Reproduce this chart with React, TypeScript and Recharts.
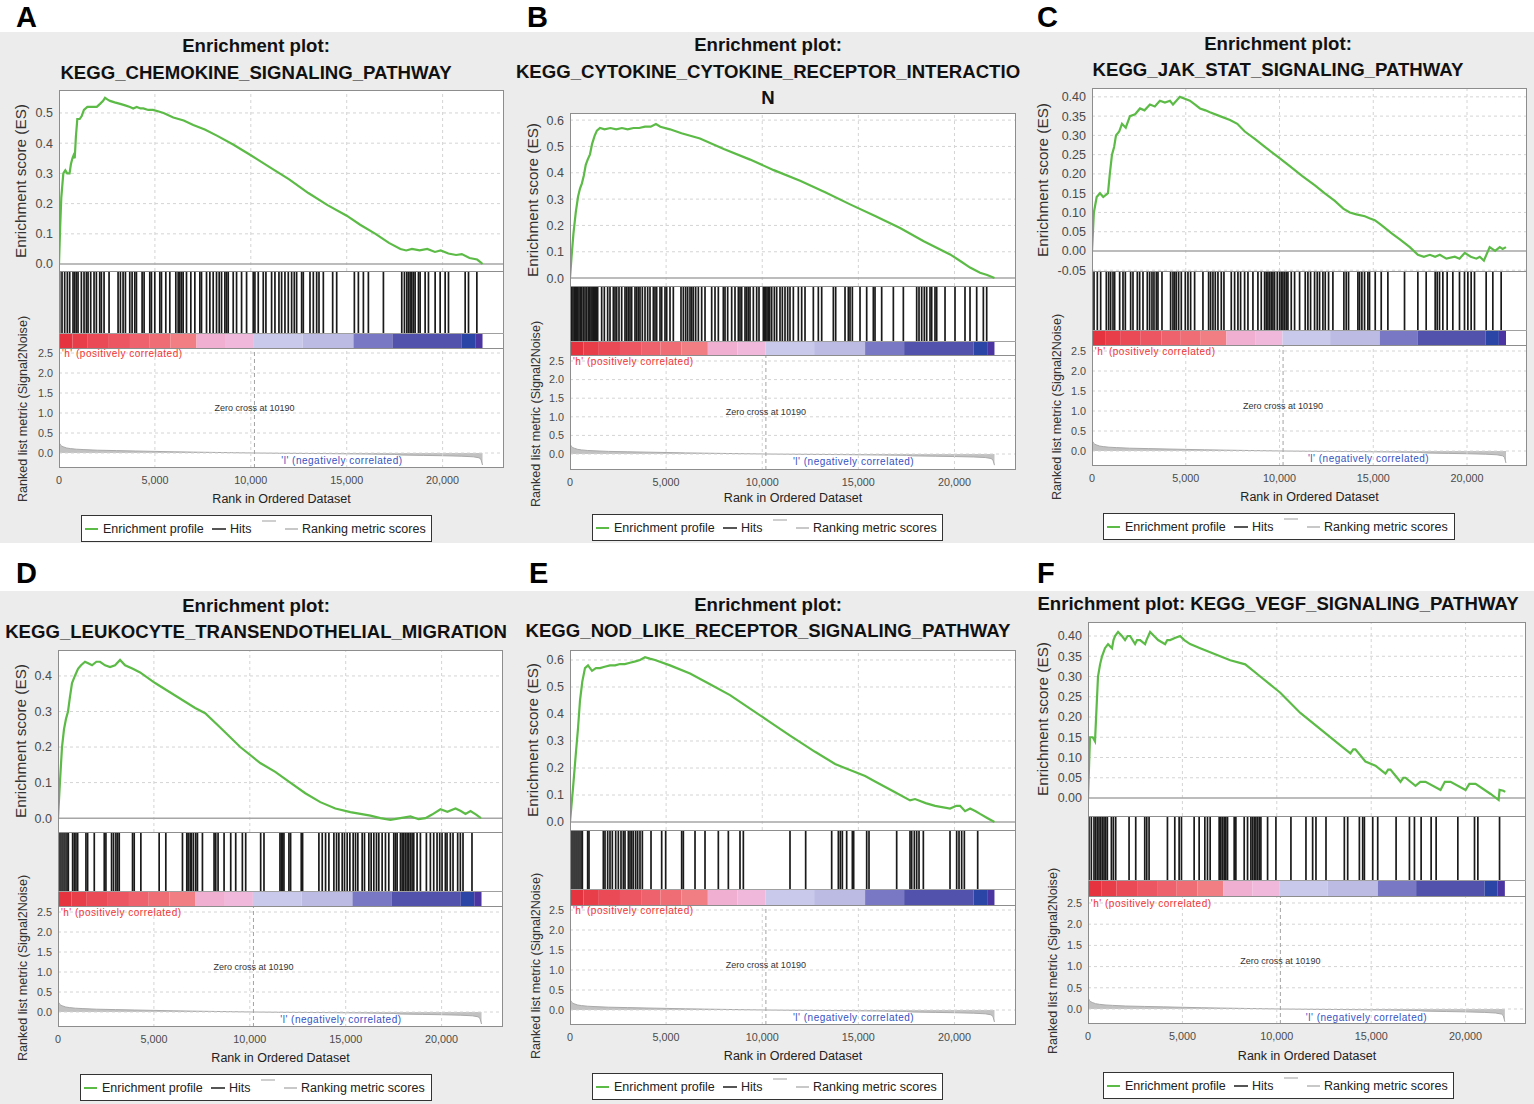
import React from 'react';
import { ComposedChart, Line, Area, Bar, Scatter, XAxis, YAxis, ReferenceLine, ReferenceDot } from 'recharts';

const FONT = '"Liberation Sans", Arial, Helvetica, sans-serif';
const XMAX = 23200;
const ZERO_CROSS = 10190;
const rankTicks = [0, 5000, 10000, 15000, 20000];
const metricTicks = [0, 0.5, 1, 1.5, 2, 2.5];

type Pt = [number, number];

// Ranked list metric (Signal2Noise), shared by all panels
const metricCurve: Pt[] = [
  [0, 0.28], [30, 0.24], [80, 0.2], [150, 0.17], [250, 0.15], [400, 0.125], [600, 0.11], [900, 0.095],
  [1300, 0.085], [2000, 0.07], [3000, 0.06], [4000, 0.05], [5000, 0.04], [6000, 0.03], [7000, 0.022],
  [8000, 0.015], [9000, 0.008], [10190, 0], [11500, -0.006], [13000, -0.012], [14500, -0.018],
  [16000, -0.026], [17500, -0.035], [17800, -0.05], [19000, -0.06], [20000, -0.068], [21000, -0.08],
  [21600, -0.095], [21900, -0.12], [22000, -0.16], [22080, -0.3],
];

// Heat-map bar of the ranked list: [start rank, end rank, colour]
const colorBands: [number, number, string][] = [
  [0, 700, '#e5343f'], [700, 1500, '#e83e4a'], [1500, 2600, '#ea4a56'], [2600, 3700, '#ec5662'],
  [3700, 4700, '#ed626c'], [4700, 5800, '#ef6e76'], [5800, 7170, '#f17e82'], [7170, 8700, '#f0aed0'],
  [8700, 10160, '#f0b8da'], [10160, 12700, '#c9c9ec'], [12700, 15350, '#bbbbe3'], [15350, 17380, '#7878c4'],
  [17380, 21000, '#5252ac'], [21000, 21700, '#2a45a5'], [21700, 22080, '#4b35a2'],
];

// Enrichment score curves: [rank, ES]
const esA: Pt[] = [
  [0, 0], [60, 0.12], [120, 0.22], [225, 0.3], [330, 0.31], [430, 0.3], [550, 0.3], [620, 0.33], [700, 0.35],
  [760, 0.36], [820, 0.35], [880, 0.42], [955, 0.48], [1080, 0.48], [1185, 0.49], [1300, 0.51], [1480, 0.52],
  [1700, 0.52], [1970, 0.52], [2140, 0.53], [2300, 0.54], [2400, 0.55], [2520, 0.545], [2660, 0.54],
  [2900, 0.535], [3190, 0.53], [3450, 0.525], [3700, 0.52], [3870, 0.515], [4050, 0.52], [4250, 0.515],
  [4400, 0.515], [4650, 0.51], [4900, 0.51], [5200, 0.505], [5450, 0.5], [5960, 0.485], [6500, 0.475],
  [7000, 0.46], [7600, 0.445], [8230, 0.425], [9100, 0.395], [10000, 0.36], [11000, 0.32], [12000, 0.28],
  [13000, 0.235], [14000, 0.195], [15000, 0.16], [15700, 0.13], [16500, 0.1], [17200, 0.07], [17800, 0.05],
  [18100, 0.045], [18400, 0.05], [18800, 0.045], [19200, 0.05], [19600, 0.04], [19900, 0.045], [20300, 0.035],
  [20700, 0.03], [21000, 0.033], [21400, 0.02], [21800, 0.015], [22000, 0.005], [22080, 0],
];
const esB: Pt[] = [
  [0, 0], [80, 0.08], [180, 0.17], [300, 0.25], [420, 0.31], [520, 0.34], [620, 0.36], [720, 0.39], [820, 0.43],
  [920, 0.45], [1040, 0.47], [1150, 0.51], [1280, 0.54], [1400, 0.56], [1560, 0.57], [1800, 0.565], [2100, 0.57],
  [2400, 0.565], [2700, 0.57], [3000, 0.565], [3300, 0.57], [3600, 0.57], [3900, 0.575], [4200, 0.575],
  [4470, 0.585], [4700, 0.575], [5200, 0.565], [5800, 0.55], [6760, 0.53], [8000, 0.49], [9370, 0.45],
  [10600, 0.41], [11970, 0.37], [13300, 0.325], [14570, 0.28], [15900, 0.235], [17170, 0.19], [18400, 0.14],
  [19770, 0.09], [20300, 0.065], [20810, 0.04], [21330, 0.02], [21700, 0.012], [22080, 0],
];
const esC: Pt[] = [
  [0, 0], [100, 0.1], [250, 0.14], [426, 0.15], [600, 0.14], [853, 0.15], [950, 0.2], [1066, 0.25], [1180, 0.27],
  [1280, 0.3], [1450, 0.31], [1600, 0.33], [1800, 0.32], [2025, 0.35], [2300, 0.355], [2560, 0.37], [2800, 0.365],
  [3090, 0.38], [3350, 0.375], [3620, 0.39], [3890, 0.385], [4160, 0.39], [4320, 0.38], [4500, 0.39], [4690, 0.4],
  [4950, 0.395], [5220, 0.39], [5500, 0.38], [5760, 0.37], [6050, 0.365], [6290, 0.36], [6820, 0.35], [7360, 0.34],
  [7750, 0.33], [8150, 0.31], [8700, 0.29], [9220, 0.27], [9900, 0.245], [10550, 0.22], [11200, 0.195],
  [11890, 0.17], [12400, 0.15], [12950, 0.13], [13400, 0.11], [13750, 0.1], [14100, 0.095], [14550, 0.09],
  [14800, 0.085], [15080, 0.08], [15350, 0.07], [15620, 0.06], [16000, 0.045], [16420, 0.03], [16950, 0.01],
  [17380, -0.01], [17700, -0.015], [18020, -0.01], [18300, -0.015], [18550, -0.01], [18900, -0.02],
  [19350, -0.015], [19600, -0.02], [19880, -0.005], [20200, -0.015], [20500, -0.02], [20680, -0.015],
  [20900, -0.025], [21210, 0.01], [21500, 0], [21750, 0.01], [21900, 0.005], [22080, 0.01],
];
const esD: Pt[] = [
  [0, 0], [100, 0.1], [209, 0.2], [313, 0.25], [420, 0.28], [522, 0.3], [620, 0.34], [731, 0.38], [880, 0.4],
  [1044, 0.42], [1200, 0.43], [1409, 0.44], [1600, 0.435], [1775, 0.43], [2000, 0.44], [2192, 0.44],
  [2453, 0.43], [2714, 0.425], [2975, 0.43], [3236, 0.445], [3497, 0.43], [3900, 0.42], [4280, 0.41],
  [5063, 0.38], [6107, 0.345], [7151, 0.31], [7673, 0.295], [8456, 0.255], [9500, 0.2], [10544, 0.155],
  [11327, 0.13], [12110, 0.1], [12893, 0.07], [13676, 0.045], [14459, 0.027], [15242, 0.017], [16286, 0.007],
  [16808, 0], [17330, -0.005], [17850, 0], [18374, 0.005], [18800, -0.003], [19157, 0], [19500, 0.01],
  [19940, 0.025], [20300, 0.018], [20723, 0.027], [21000, 0.02], [21245, 0.012], [21506, 0.02], [21800, 0.01],
  [22050, 0],
];
const esE: Pt[] = [
  [0, 0], [150, 0.12], [300, 0.25], [420, 0.35], [520, 0.45], [640, 0.52], [780, 0.57], [937, 0.58], [1145, 0.56],
  [1350, 0.57], [1561, 0.57], [1800, 0.575], [2081, 0.58], [2350, 0.58], [2602, 0.585], [2850, 0.585],
  [3122, 0.59], [3400, 0.595], [3642, 0.6], [3902, 0.61], [4150, 0.605], [4423, 0.6], [5203, 0.58],
  [6244, 0.55], [7284, 0.51], [8325, 0.47], [9365, 0.42], [10406, 0.37], [11447, 0.32], [12747, 0.26],
  [13788, 0.215], [14300, 0.2], [14829, 0.185], [15350, 0.17], [15869, 0.15], [16910, 0.11], [17690, 0.08],
  [17950, 0.085], [18500, 0.07], [18991, 0.06], [19771, 0.05], [20100, 0.06], [20292, 0.06], [20552, 0.04],
  [20812, 0.05], [21100, 0.04], [21332, 0.03], [21700, 0.015], [22080, 0],
];
const esF: Pt[] = [
  [0, 0], [106, 0.15], [250, 0.15], [371, 0.14], [450, 0.22], [530, 0.3], [640, 0.33], [743, 0.35], [900, 0.37],
  [1061, 0.38], [1273, 0.37], [1350, 0.39], [1432, 0.4], [1592, 0.41], [1800, 0.4], [1963, 0.39], [2100, 0.4],
  [2228, 0.4], [2493, 0.38], [2600, 0.39], [2759, 0.39], [3024, 0.38], [3100, 0.39], [3289, 0.41], [3500, 0.4],
  [3714, 0.39], [4085, 0.38], [4200, 0.39], [4350, 0.39], [4600, 0.395], [4881, 0.4], [5100, 0.39],
  [5411, 0.38], [5942, 0.37], [6472, 0.36], [7003, 0.35], [7533, 0.34], [8329, 0.33], [9125, 0.3],
  [10186, 0.26], [11247, 0.21], [12308, 0.17], [13369, 0.13], [13899, 0.11], [14050, 0.12], [14164, 0.12],
  [14695, 0.09], [15225, 0.08], [15756, 0.06], [15900, 0.07], [16021, 0.07], [16552, 0.04], [16700, 0.05],
  [16817, 0.05], [17347, 0.03], [17600, 0.04], [17878, 0.04], [18674, 0.02], [18900, 0.04], [19204, 0.04],
  [20000, 0.02], [20200, 0.035], [20530, 0.035], [21326, 0.01], [21750, -0.005], [21800, 0.02], [22000, 0.018],
  [22100, 0.015],
];

// Hit positions (rank of each gene-set member)
const hitsA = [
  35, 157, 296, 435, 557, 731, 818, 905, 992, 1166, 1305, 1427, 1514, 1653, 1827, 1949, 2123, 2210, 2349, 2610,
  3080, 3202, 3341, 3463, 3689, 3811, 3950, 4037, 4333, 4437, 4733, 4820, 4994, 5255, 5342, 5568, 5777, 6090,
  6212, 6299, 6386, 6473, 6647, 6873, 7082, 7343, 7430, 7691, 7865, 8039, 8213, 8352, 8474, 8648, 8735, 8822,
  9083, 9257, 9518, 9779, 10127, 10214, 10388, 10649, 10788, 11084, 11258, 11467, 11606, 11780, 11954, 12128,
  12267, 12389, 12650, 12737, 13085, 13259, 13433, 13555, 13781, 14268, 14477, 15399, 15608, 15869, 16130,
  16913, 17870, 18009, 18131, 18218, 18305, 18392, 18479, 18566, 18740, 18827, 19088, 19262, 19610, 19871,
  20132, 20306, 21176, 21350, 21785,
];
const hitsB = [
  87, 156, 225, 290, 347, 400, 468, 540, 607, 690, 780, 867, 954, 1020, 1092, 1150, 1214, 1270, 1335, 1380,
  1439, 1647, 1786, 1959, 2081, 2254, 2341, 2428, 2549, 2688, 2861, 2948, 3035, 3121, 3208, 3381, 3468, 3555,
  3641, 3763, 3902, 4040, 4162, 4335, 4422, 4508, 4682, 4769, 4942, 5029, 5202, 5375, 5774, 5896, 6017, 6121,
  6242, 6329, 6416, 6537, 6676, 6849, 7023, 7370, 7543, 7716, 7976, 8063, 8202, 8410, 8583, 8757, 8843, 8930,
  9104, 9190, 9277, 9364, 9537, 9710, 9832, 10057, 10109, 10179, 10248, 10317, 10387, 10491, 10630, 10751,
  10924, 11046, 11184, 11323, 11444, 11618, 11878, 12051, 12225, 12658, 12918, 13092, 13699, 13820, 14306,
  14479, 14566, 14687, 15086, 15433, 15779, 15866, 16213, 16820, 17340, 18034, 18155, 18294, 18432, 18554,
  18727, 18814, 18987, 19074, 19508, 20027, 20547, 20808, 21155, 21502, 21675,
];
const hitsC = [
  107, 284, 462, 764, 889, 995, 1120, 1208, 1475, 1653, 1777, 2061, 2186, 2417, 2541, 2719, 2950, 3074, 3199,
  3305, 3430, 3518, 3732, 4194, 4318, 4407, 4496, 4620, 4762, 4976, 5118, 5260, 5473, 5917, 6220, 6326, 6450,
  6575, 6717, 6895, 7037, 7428, 7606, 7783, 7925, 8139, 8317, 8583, 8849, 9027, 9205, 9294, 9383, 9471, 9560,
  9649, 9738, 9880, 10005, 10094, 10182, 10271, 10360, 10449, 10627, 10805, 11071, 11373, 11515, 11657, 11871,
  12013, 12137, 12315, 12439, 12617, 12848, 13434, 13559, 13683, 14181, 14270, 14394, 14536, 14714, 14802,
  15105, 15425, 15780, 16668, 17379, 17823, 18303, 18410, 18534, 18712, 18943, 19245, 19600, 19867, 20045,
  20222, 20400, 21022, 21377, 21822,
];
const hitsD = [
  52, 156, 260, 364, 468, 538, 763, 850, 937, 1024, 1457, 1544, 1891, 2412, 2498, 2793, 2897, 3019, 3106, 3192,
  3886, 3973, 4320, 5274, 5621, 6489, 6714, 6784, 6888, 6957, 7061, 7183, 7270, 7530, 8137, 8224, 8345, 8658,
  9005, 9265, 9612, 9785, 10566, 10739, 11572, 11641, 11710, 11780, 12040, 12127, 12682, 12752, 13602, 13776,
  13949, 14123, 14383, 14522, 14643, 14817, 14938, 15077, 15216, 15389, 15511, 15632, 15858, 15979, 16205,
  16326, 16465, 16604, 16725, 16899, 17072, 17246, 17506, 17593, 17680, 17853, 17940, 18027, 18113, 18200,
  18287, 18374, 18460, 18547, 18721, 18894, 19206, 19414, 19588, 19762, 19900, 20022, 20195, 20282, 20456,
  20594, 20837, 20976, 21115, 21583,
];
const hitsE = [
  52, 156, 260, 364, 468, 572, 642, 919, 988, 1734, 1821, 1959, 2081, 2202, 2376, 2514, 2653, 2774, 2861, 3035,
  3121, 3208, 3295, 3416, 3520, 3641, 3763, 4214, 4769, 4977, 5809, 5896, 6503, 7023, 7716, 8237, 8843, 9017,
  11444, 12259, 13612, 13959, 14063, 14167, 14392, 14687, 14756, 15433, 15554, 16993, 17687, 17774, 17912,
  18034, 18155, 18380, 19768, 20114, 20236, 20374, 20513, 21207,
];
const hitsF = [
  53, 177, 318, 407, 495, 583, 672, 760, 849, 937, 1025, 1238, 1344, 1467, 2175, 2528, 3006, 3112, 3235, 4208,
  4597, 4827, 4950, 5622, 5887, 6188, 6329, 6471, 6948, 7037, 7125, 7213, 7302, 7390, 7744, 7832, 8274, 8451,
  8628, 8716, 8805, 8893, 8981, 9070, 9158, 9512, 9954, 10749, 11545, 11899, 12075, 12606, 13578, 13755, 14374,
  14550, 14639, 15081, 15346, 16319, 17026, 17291, 17645, 18175, 18440, 19589, 20473, 20650, 21799,
];

const ticksA = [0, 0.1, 0.2, 0.3, 0.4, 0.5];
const ticksB = [0, 0.1, 0.2, 0.3, 0.4, 0.5, 0.6];
const ticksC = [-0.05, 0, 0.05, 0.1, 0.15, 0.2, 0.25, 0.3, 0.35, 0.4];
const ticksD = [0, 0.1, 0.2, 0.3, 0.4];
const ticksE = [0, 0.1, 0.2, 0.3, 0.4, 0.5, 0.6];
const ticksF = [0, 0.05, 0.1, 0.15, 0.2, 0.25, 0.3, 0.35, 0.4];

const titlesA = ['Enrichment plot:', 'KEGG_CHEMOKINE_SIGNALING_PATHWAY'];
const titlesB = ['Enrichment plot:', 'KEGG_CYTOKINE_CYTOKINE_RECEPTOR_INTERACTIO', 'N'];
const titlesC = ['Enrichment plot:', 'KEGG_JAK_STAT_SIGNALING_PATHWAY'];
const titlesD = ['Enrichment plot:', 'KEGG_LEUKOCYTE_TRANSENDOTHELIAL_MIGRATION'];
const titlesE = ['Enrichment plot:', 'KEGG_NOD_LIKE_RECEPTOR_SIGNALING_PATHWAY'];
const titlesF = ['Enrichment plot: KEGG_VEGF_SIGNALING_PATHWAY'];

type Cfg = {
  letter: string; letterX: number; letterY: number;
  bg: [number, number, number, number];
  titles: string[]; titleCx: number; titleYs: number[];
  L: number; R: number;
  esTop: number; esBottom: number; esDomain: [number, number]; esTicks: number[]; esDec: number;
  hitsBottom: number; barBottom: number; rankBottom: number; rankDomain: [number, number];
  xLabelY: number; esLabelX: number; rankLabelX: number;
  legend: [number, number, number, number];
  es: Pt[]; hits: number[];
};

const panels: Cfg[] = [
  { letter: 'A', letterX: 16, letterY: 1, bg: [0, 32, 512, 511], titles: titlesA, titleCx: 256, titleYs: [45, 72],
    L: 59, R: 504, esTop: 90, esBottom: 271, esDomain: [-0.023, 0.576], esTicks: ticksA, esDec: 1,
    hitsBottom: 333, barBottom: 348, rankBottom: 468, rankDomain: [-0.375, 2.625],
    xLabelY: 499, esLabelX: 21, rankLabelX: 23, legend: [81, 515, 351, 27], es: esA, hits: hitsA },
  { letter: 'B', letterX: 527, letterY: 1, bg: [512, 32, 511, 511], titles: titlesB, titleCx: 768, titleYs: [44, 71, 97],
    L: 570, R: 1016, esTop: 113, esBottom: 286, esDomain: [-0.03, 0.627], esTicks: ticksB, esDec: 1,
    hitsBottom: 341, barBottom: 355, rankBottom: 470, rankDomain: [-0.43, 2.661],
    xLabelY: 498, esLabelX: 533, rankLabelX: 536, legend: [592, 514, 351, 27], es: esB, hits: hitsB },
  { letter: 'C', letterX: 1037, letterY: 1, bg: [1023, 32, 511, 511], titles: titlesC, titleCx: 1278, titleYs: [43, 69],
    L: 1092, R: 1527, esTop: 88, esBottom: 271, esDomain: [-0.052, 0.423], esTicks: ticksC, esDec: 2,
    hitsBottom: 330, barBottom: 345, rankBottom: 466, rankDomain: [-0.375, 2.65],
    xLabelY: 497, esLabelX: 1043, rankLabelX: 1057, legend: [1103, 513, 352, 27], es: esC, hits: hitsC },
  { letter: 'D', letterX: 16, letterY: 557, bg: [0, 591, 512, 513], titles: titlesD, titleCx: 256, titleYs: [605, 631],
    L: 58, R: 503, esTop: 650, esBottom: 832, esDomain: [-0.039, 0.473], esTicks: ticksD, esDec: 1,
    hitsBottom: 891, barBottom: 906, rankBottom: 1027, rankDomain: [-0.375, 2.65],
    xLabelY: 1058, esLabelX: 21, rankLabelX: 23, legend: [80, 1074, 352, 27], es: esD, hits: hitsD },
  { letter: 'E', letterX: 529, letterY: 557, bg: [512, 591, 511, 513], titles: titlesE, titleCx: 768, titleYs: [604, 630],
    L: 570, R: 1016, esTop: 650, esBottom: 830, esDomain: [-0.0296, 0.637], esTicks: ticksE, esDec: 1,
    hitsBottom: 889, barBottom: 905, rankBottom: 1025, rankDomain: [-0.375, 2.625],
    xLabelY: 1056, esLabelX: 533, rankLabelX: 536, legend: [592, 1073, 351, 27], es: esE, hits: hitsE },
  { letter: 'F', letterX: 1037, letterY: 557, bg: [1023, 591, 511, 513], titles: titlesF, titleCx: 1278, titleYs: [603],
    L: 1088, R: 1526, esTop: 622, esBottom: 816, esDomain: [-0.0444, 0.4346], esTicks: ticksF, esDec: 2,
    hitsBottom: 880, barBottom: 896, rankBottom: 1024, rankDomain: [-0.354, 2.665],
    xLabelY: 1056, esLabelX: 1043, rankLabelX: 1053, legend: [1103, 1072, 351, 27], es: esF, hits: hitsF },
];

const rows = (pts: Pt[]) => pts.map(([r, v]) => ({ r, v }));
const metricRows = rows(metricCurve);
const bandRow: Record<string, any> = { cat: 'bar' };
colorBands.forEach(([s, e], i) => { bandRow['b' + i] = e - s; });
const bandData = [bandRow];

const GRID = '#d4d4d4';
const TICK = { fontSize: 12.5, fill: '#4a4a4a', fontFamily: FONT };
const SMALL_TICK = { fontSize: 10.8, fill: '#4a4a4a', fontFamily: FONT };
const PAD_T = 8;
const PAD_B = 8;

function Txt({ x, y, children, size = 12, weight = 400, color = '#222', anchor = 'middle', ls = 0 }: any) {
  const lh = Math.round(size * 1.25);
  const tx = anchor === 'middle' ? '-50%' : anchor === 'end' ? '-100%' : '0';
  return (
    <div style={{ position: 'absolute', left: x, top: y - lh / 2, lineHeight: lh + 'px', fontSize: size, fontWeight: weight,
      color, whiteSpace: 'nowrap', transform: `translateX(${tx})`, letterSpacing: ls }}>{children}</div>
  );
}

function VTxt({ x, y, children, size }: any) {
  return (
    <div style={{ position: 'absolute', left: x, top: y, fontSize: size, lineHeight: 1.15, whiteSpace: 'nowrap', color: '#333',
      transform: 'translate(-50%,-50%) rotate(-90deg)' }}>{children}</div>
  );
}

function Box({ x, y, w, h, bg, border }: any) {
  return <div style={{ position: 'absolute', left: x, top: y, width: w, height: h, boxSizing: 'border-box',
    background: bg || 'transparent', border: border || 'none', pointerEvents: 'none' }} />;
}

function Seg({ left, top, color, w = 13, h = 2 }: any) {
  return <div style={{ position: 'absolute', left, top, width: w, height: h, background: color }} />;
}

function LegendBox({ box }: { box: [number, number, number, number] }) {
  const [x, y, w, h] = box;
  return (
    <div style={{ position: 'absolute', left: x, top: y, width: w, height: h, boxSizing: 'border-box',
      border: '1.5px solid #333', background: '#fff' }}>
      <Seg left={3} top={12} color="#5cbb46" />
      <Txt x={21} y={12.5} anchor="start" size={12.5}>Enrichment profile</Txt>
      <Seg left={130} top={12} color="#555" w={14} h={1.6} />
      <Txt x={148} y={12.5} anchor="start" size={12.5}>Hits</Txt>
      <Seg left={180} top={4} color="#cfcfcf" w={14} h={1.5} />
      <Seg left={203} top={12} color="#c8c8c8" w={13} h={1.5} />
      <Txt x={220} y={12.5} anchor="start" size={12.5}>Ranking metric scores</Txt>
    </div>
  );
}

function HitShape(props: any) {
  const { cx, h } = props;
  if (typeof cx !== 'number') return null;
  return <line x1={cx} x2={cx} y1={0} y2={h} stroke="#1a1a1a" strokeWidth={1.7} />;
}

function Panel({ c }: { c: Cfg }) {
  const YW = 50;
  const XH = 26;
  const W = c.R - c.L;
  const esH = c.esBottom - c.esTop;
  const hitsH = c.hitsBottom - c.esBottom;
  const barH = c.barBottom - c.hitsBottom;
  const rankH = c.rankBottom - c.barBottom;
  const [bx, by, bw, bh] = c.bg;
  const frame = '1px solid #8d8d8d';
  const marg = { top: PAD_T, right: 0, bottom: PAD_B, left: 0 };
  return (
    <>
      <Box x={bx} y={by} w={bw} h={bh} bg="#ececec" />
      <div style={{ position: 'absolute', left: c.letterX, top: c.letterY, fontSize: 29, lineHeight: '32px', fontWeight: 700, color: '#000' }}>{c.letter}</div>
      {c.titles.map((t, i) => (
        <Txt key={i} x={c.titleCx} y={c.titleYs[i]} size={18.6} weight={700} color="#111">{t}</Txt>
      ))}
      <Box x={c.L} y={c.esTop} w={W} h={c.rankBottom - c.esTop} bg="#fff" />

      {/* Enrichment score */}
      <div style={{ position: 'absolute', left: c.L - YW, top: c.esTop - PAD_T }}>
        <ComposedChart width={W + YW} height={esH + PAD_T + PAD_B} data={rows(c.es)} margin={marg}>
          <XAxis dataKey="r" type="number" domain={[0, XMAX]} hide allowDataOverflow />
          <YAxis type="number" domain={c.esDomain} ticks={c.esTicks} width={YW} axisLine={false} tickLine={false}
            tickSize={4} tickMargin={2} interval={0} allowDataOverflow tick={TICK}
            tickFormatter={(v: number) => v.toFixed(c.esDec)} />
          {c.esTicks.filter((t) => t !== 0).map((t) => (
            <ReferenceLine key={'h' + t} y={t} stroke={GRID} strokeDasharray="3 3" />
          ))}
          {rankTicks.slice(1).map((t) => (
            <ReferenceLine key={'v' + t} x={t} stroke={GRID} strokeDasharray="3 3" />
          ))}
          <ReferenceLine y={0} stroke="#a6a6a6" strokeWidth={1.5} />
          <Line dataKey="v" type="linear" stroke="#5cbb46" strokeWidth={2.2} dot={false} isAnimationActive={false} />
        </ComposedChart>
      </div>

      {/* Hits */}
      <div style={{ position: 'absolute', left: c.L, top: c.esBottom }}>
        <ComposedChart width={W} height={hitsH} data={c.hits.map((r) => ({ r, v: 0.5 }))}
          margin={{ top: 0, right: 0, bottom: 0, left: 0 }}>
          <XAxis dataKey="r" type="number" domain={[0, XMAX]} hide allowDataOverflow />
          <YAxis dataKey="v" type="number" domain={[0, 1]} hide />
          <Scatter dataKey="v" isAnimationActive={false} shape={(p: any) => <HitShape {...p} h={hitsH} />} />
        </ComposedChart>
      </div>

      {/* Ranked-list heat bar */}
      <div style={{ position: 'absolute', left: c.L, top: c.hitsBottom }}>
        <ComposedChart layout="vertical" width={W} height={barH} data={bandData} barCategoryGap={0}
          margin={{ top: 0, right: 0, bottom: 0, left: 0 }}>
          <XAxis type="number" domain={[0, XMAX]} hide allowDataOverflow />
          <YAxis type="category" dataKey="cat" hide />
          {colorBands.map(([, , col], i) => (
            <Bar key={i} dataKey={'b' + i} stackId="s" fill={col} isAnimationActive={false} />
          ))}
        </ComposedChart>
      </div>

      {/* Ranked list metric */}
      <div style={{ position: 'absolute', left: c.L - YW, top: c.barBottom - PAD_T }}>
        <ComposedChart width={W + YW} height={rankH + XH + PAD_T} data={metricRows} margin={{ ...marg, bottom: 0 }}>
          <XAxis dataKey="r" type="number" domain={[0, XMAX]} ticks={rankTicks} height={XH} axisLine={false}
            tickLine={false} interval={0} allowDataOverflow tick={SMALL_TICK}
            tickFormatter={(v: number) => v.toLocaleString('en-US')} />
          <YAxis type="number" domain={c.rankDomain} ticks={metricTicks} width={YW} axisLine={false} tickLine={false}
            tickSize={4} tickMargin={2} interval={0} allowDataOverflow tick={SMALL_TICK}
            tickFormatter={(v: number) => v.toFixed(1)} />
          {metricTicks.map((t) => (
            <ReferenceLine key={'h' + t} y={t} stroke={GRID} strokeDasharray="3 3" />
          ))}
          {rankTicks.slice(1).map((t) => (
            <ReferenceLine key={'v' + t} x={t} stroke={GRID} strokeDasharray="3 3" />
          ))}
          <ReferenceLine x={ZERO_CROSS} stroke="#a4a4a4" strokeDasharray="4 3" />
          <Area dataKey="v" type="linear" baseValue={0} fill="#c2c2c2" fillOpacity={1} stroke="#aaaaaa"
            strokeWidth={1} dot={false} isAnimationActive={false} />
          <ReferenceDot x={150} y={2.5} r={0} fill="none" stroke="none"
            label={{ value: "'h' (positively correlated)", position: 'right', offset: 0, fill: '#ef3434', fontSize: 10, fontFamily: FONT, letterSpacing: 0.5 }} />
          <ReferenceDot x={ZERO_CROSS} y={1.13} r={0} fill="none" stroke="none"
            label={{ value: 'Zero cross at 10190', position: 'center', offset: 0, fill: '#333', fontSize: 9, fontFamily: FONT }} />
          <ReferenceDot x={14750} y={-0.19} r={0} fill="none" stroke="none"
            label={{ value: "'l' (negatively correlated)", position: 'center', offset: 0, fill: '#3552c2', fontSize: 10, fontFamily: FONT, letterSpacing: 0.5 }} />
        </ComposedChart>
      </div>

      {/* frames */}
      <Box x={c.L} y={c.esTop} w={W} h={esH + 1} border={frame} />
      <Box x={c.L} y={c.esBottom} w={W} h={c.barBottom - c.esBottom + 1} border={frame} />
      <Box x={c.L} y={c.hitsBottom} w={W} h={1} bg="#a0a0a0" />
      <Box x={c.L} y={c.barBottom} w={W} h={rankH} border={frame} />

      <VTxt x={c.esLabelX} y={(c.esTop + c.esBottom) / 2} size={15.3}>Enrichment score (ES)</VTxt>
      <VTxt x={c.rankLabelX} y={(c.barBottom + c.rankBottom) / 2 + 1} size={12.6}>Ranked list metric (Signal2Noise)</VTxt>
      <Txt x={(c.L + c.R) / 2} y={c.xLabelY} size={12.5} color="#222">Rank in Ordered Dataset</Txt>
      <LegendBox box={c.legend} />
    </>
  );
}

export default function App() {
  return (
    <div style={{ position: 'absolute', left: 0, top: 0, width: 1534, height: 1104, background: '#fff', fontFamily: FONT, overflow: 'hidden' }}>
      {panels.map((c) => (
        <Panel key={c.letter} c={c} />
      ))}
    </div>
  );
}
